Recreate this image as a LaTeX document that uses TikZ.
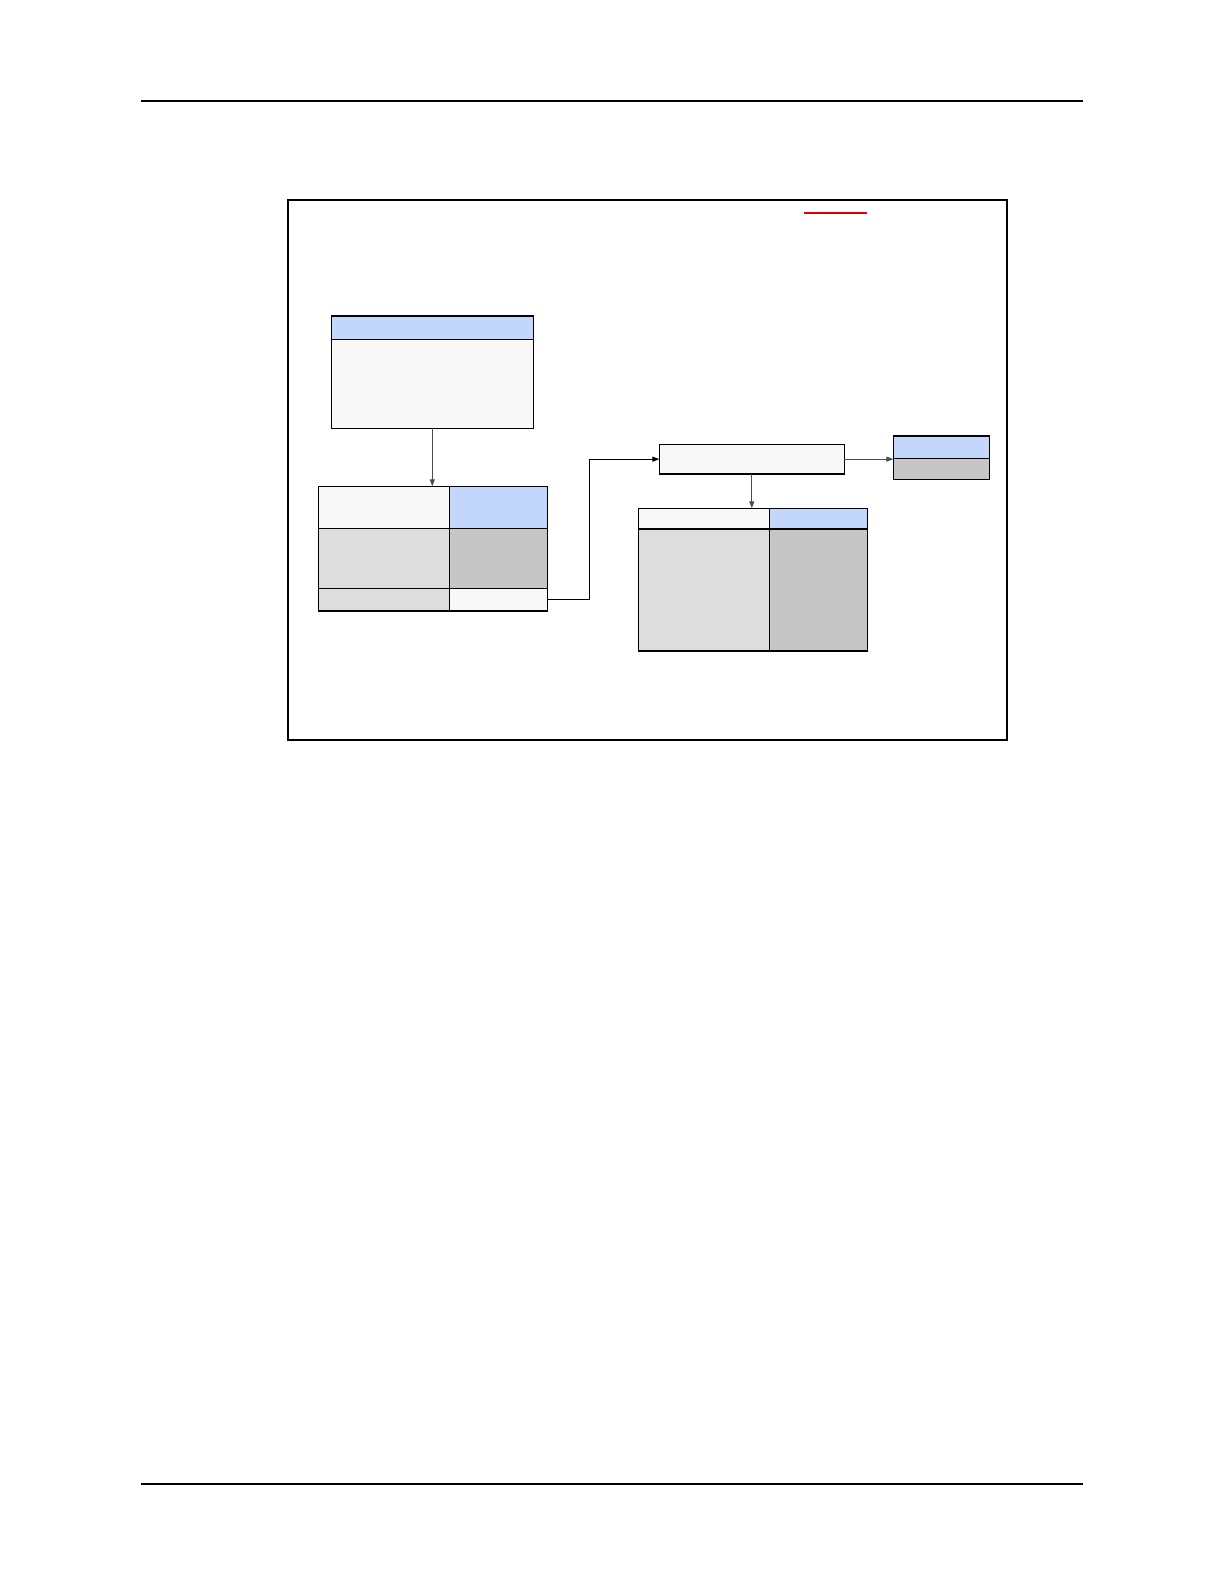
\documentclass[tikz,border=0pt]{standalone}
\usetikzlibrary{arrows.meta}
\definecolor{hdrblue}{RGB}{195,215,253}
\definecolor{paleface}{RGB}{248,248,248}
\definecolor{lightgr}{RGB}{221,221,221}
\definecolor{midgr}{RGB}{198,198,198}
\definecolor{redmark}{RGB}{220,0,0}
\tikzset{
  cell/.style={draw=black, line width=1.1pt, inner sep=0pt, outer sep=0pt, anchor=north west},
  conn/.style={line width=1.1pt, -{Triangle[length=7pt,width=5pt]}},
  rule/.style={draw=black, line width=1.1pt}
}
\begin{document}
\begin{tikzpicture}[x=1pt,y=-1pt]
\useasboundingbox (0,0) rectangle (1224,1584);
\fill[white] (0,0) rectangle (1224,1584);
% page rules
\draw[rule] (141,101) -- (1083,101);
\draw[rule, line width=1.8pt] (141,1484) -- (1083,1484);
% frame
\draw[line width=1.1pt] (288,200) rectangle (1007,740);
% red mark
\draw[redmark, line width=2pt] (804,212.7) -- (867,212.7);
% top box
\node[cell, fill=hdrblue, minimum width=202pt, minimum height=23.3pt] (tbh) at (331.3,316) {};
\node[cell, fill=paleface, minimum width=202pt, minimum height=89pt] (tbb) at (331.3,339.3) {};
% table 1
\node[cell, fill=paleface, minimum width=131pt, minimum height=42pt] (t1a) at (318.3,486.3) {};
\node[cell, fill=hdrblue, minimum width=98pt, minimum height=42pt] (t1b) at (449.3,486.3) {};
\node[cell, fill=lightgr, minimum width=131pt, minimum height=60pt] (t1c) at (318.3,528.3) {};
\node[cell, fill=midgr, minimum width=98pt, minimum height=60pt] (t1d) at (449.3,528.3) {};
\node[cell, fill=lightgr, minimum width=131pt, minimum height=22.7pt] (t1e) at (318.3,588.3) {};
\node[cell, fill=paleface, minimum width=98pt, minimum height=22.7pt] (t1f) at (449.3,588.3) {};
% middle box
\node[cell, fill=paleface, minimum width=185pt, minimum height=29.7pt] (mb) at (659.3,444.3) {};
% table 2
\node[cell, fill=paleface, minimum width=131pt, minimum height=20.7pt] (t2a) at (638.3,508.3) {};
\node[cell, fill=hdrblue, minimum width=98pt, minimum height=20.7pt] (t2b) at (769.3,508.3) {};
\node[cell, fill=lightgr, minimum width=131pt, minimum height=122pt] (t2c) at (638.3,529) {};
\node[cell, fill=midgr, minimum width=98pt, minimum height=122pt] (t2d) at (769.3,529) {};
% small box
\node[cell, fill=hdrblue, minimum width=96pt, minimum height=22.3pt] (sbh) at (893.3,436) {};
\node[cell, fill=midgr, minimum width=96pt, minimum height=21pt] (sbb) at (893.3,458.3) {};
% connectors
\draw[conn, draw=black!70] (tbb.south) -- (tbb.south |- t1a.north);
\draw[conn] (t1f.east) -- ++(42,0) |- (mb.west);
\draw[conn, draw=black!70] (mb.south) -- (mb.south |- t2a.north);
\draw[conn, draw=black!70] (mb.east) -- (mb.east -| sbh.west);
\end{tikzpicture}
\end{document}
